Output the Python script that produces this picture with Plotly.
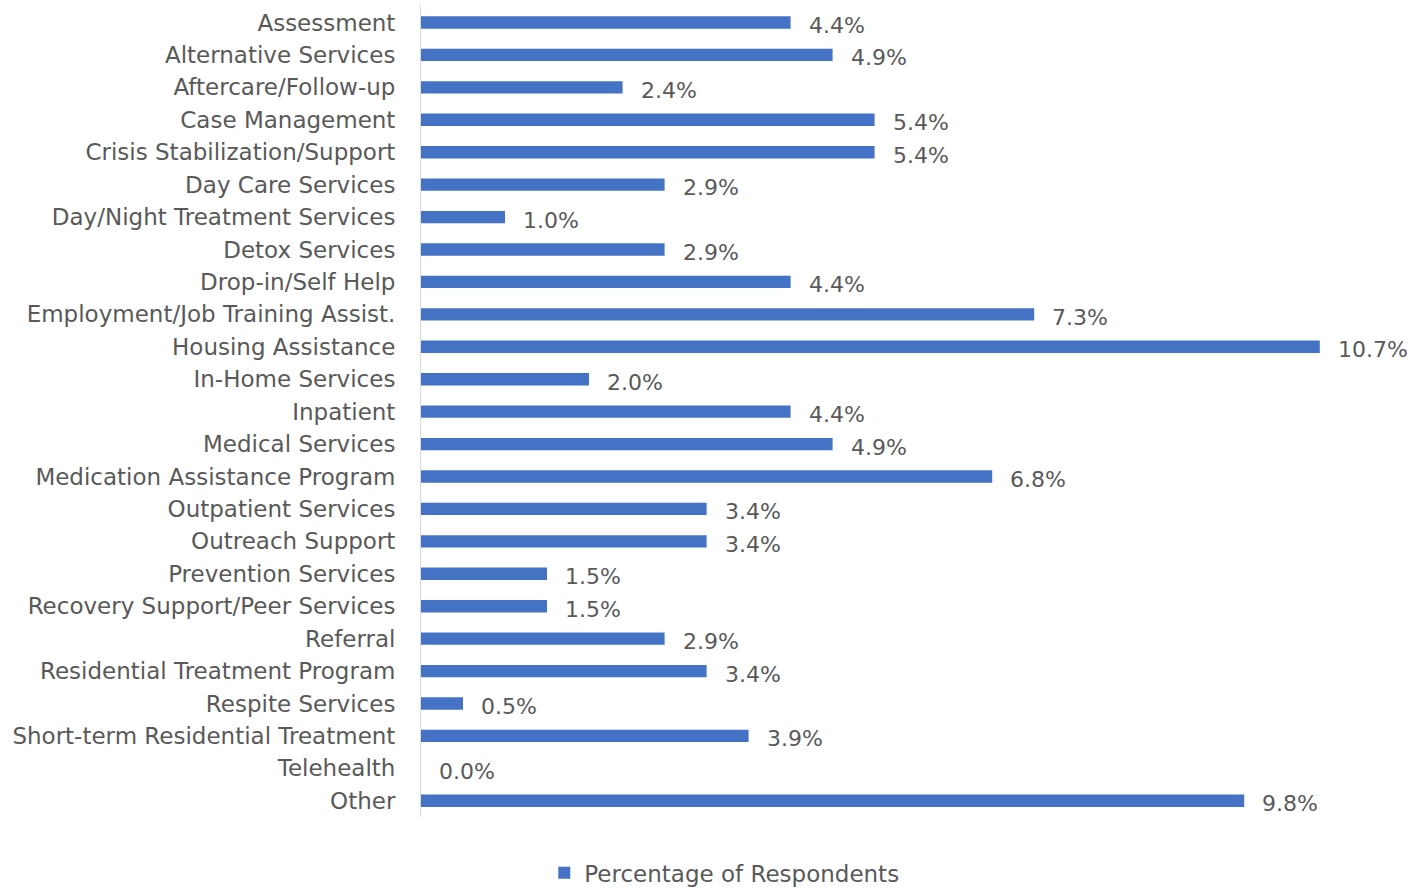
import plotly.graph_objects as go

categories = [
    "Assessment", "Alternative Services", "Aftercare/Follow-up", "Case Management",
    "Crisis Stabilization/Support", "Day Care Services", "Day/Night Treatment Services",
    "Detox Services", "Drop-in/Self Help", "Employment/Job Training Assist.",
    "Housing Assistance", "In-Home Services", "Inpatient", "Medical Services",
    "Medication Assistance Program", "Outpatient Services", "Outreach Support",
    "Prevention Services", "Recovery Support/Peer Services", "Referral",
    "Residential Treatment Program", "Respite Services", "Short-term Residential Treatment",
    "Telehealth", "Other",
]
percentages = [
    4.4, 4.9, 2.4, 5.4, 5.4, 2.9, 1.0, 2.9, 4.4, 7.3, 10.7, 2.0, 4.4, 4.9, 6.8,
    3.4, 3.4, 1.5, 1.5, 2.9, 3.4, 0.5, 3.9, 0.0, 9.8,
]
series_name = "Percentage of Respondents"

BAR_COLOR = "#4472C4"
TEXT_COLOR = "#595959"
FONT = "DejaVu Sans"

fig = go.Figure(
    go.Bar(
        x=percentages,
        y=categories,
        orientation="h",
        name=series_name,
        marker=dict(color=BAR_COLOR, line=dict(width=0)),
        showlegend=True,
    )
)

# value labels to the right of each bar
for cat, val in zip(categories, percentages):
    fig.add_annotation(
        x=val, y=cat, text=f"{val:.1f}%", showarrow=False,
        xanchor="left", yanchor="middle", xshift=16, yshift=-3,
        font=dict(family=FONT, size=22, color=TEXT_COLOR),
    )

fig.update_layout(
    width=1416, height=888,
    margin=dict(l=421, r=29, t=5, b=71),
    paper_bgcolor="white", plot_bgcolor="white",
    bargap=0.62,
    font=dict(family=FONT, size=22, color=TEXT_COLOR),
    xaxis=dict(range=[0, 11.5], showgrid=False, zeroline=False,
               showticklabels=False, showline=False, fixedrange=True),
    yaxis=dict(autorange="reversed", showgrid=False, zeroline=False,
               showline=True, linecolor="#D9D9D9", linewidth=1,
               ticks="", ticklabelstandoff=20,
               tickfont=dict(family=FONT, size=23, color=TEXT_COLOR)),
    legend=dict(orientation="h", xref="container", yref="container",
                x=0.5115, y=0.017, xanchor="center", yanchor="middle",
                font=dict(family=FONT, size=23, color=TEXT_COLOR)),
)

fig.write_html("out.html")
